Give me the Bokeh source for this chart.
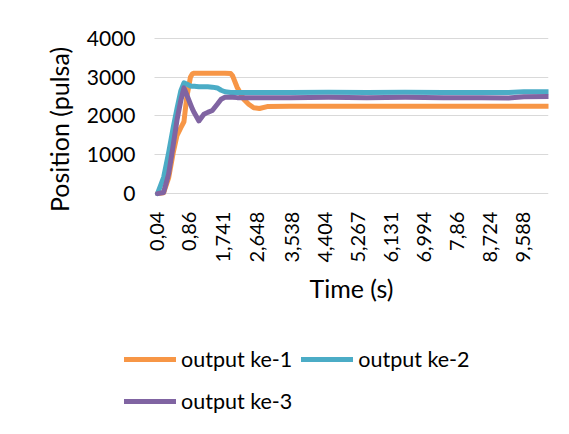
import math
from bokeh.plotting import figure
from bokeh.models import Range1d, FixedTicker, Legend, LegendItem
from bokeh.embed import file_html
from bokeh.resources import INLINE

# ---- data ----
time_s = [0.04, 0.2, 0.33, 0.45, 0.55, 0.65, 0.73, 0.8, 0.9, 0.95, 1.0, 1.12, 1.25, 1.35,
          1.47, 1.6, 1.7, 1.8, 1.95, 2.0, 2.12, 2.29, 2.42, 2.55, 2.7, 2.9, 3.5, 4.5, 5.5,
          6.5, 7.5, 8.5, 9.2, 9.6, 10.24]
output_ke1 = [0, 20, 400, 1050, 1500, 1700, 1850, 2450, 3000, 3080, 3100, 3100, 3100, 3100,
              3100, 3100, 3100, 3100, 3090, 3030, 2730, 2430, 2300, 2210, 2190, 2240, 2250, 2250, 2250,
              2250, 2250, 2250, 2250, 2250, 2250]
output_ke2 = [0, 420, 1050, 1700, 2200, 2650, 2850, 2820, 2770, 2760, 2760, 2750, 2750, 2750,
              2740, 2720, 2660, 2620, 2600, 2600, 2600, 2600, 2600, 2600, 2600, 2600, 2600, 2610, 2600,
              2610, 2600, 2600, 2600, 2620, 2620]
output_ke3 = [0, 30, 500, 1250, 1900, 2400, 2720, 2550, 2300, 2180, 2080, 1870, 2040, 2090,
              2140, 2300, 2430, 2480, 2480, 2480, 2470, 2470, 2470, 2470, 2470, 2470, 2470, 2480, 2470,
              2480, 2470, 2470, 2460, 2490, 2500]

tick_times = [0.04, 0.86, 1.741, 2.648, 3.538, 4.404, 5.267, 6.131, 6.994, 7.86, 8.724, 9.588]
tick_labels = ["0,04", "0,86", "1,741", "2,648", "3,538", "4,404", "5,267", "6,131",
               "6,994", "7,86", "8,724", "9,588"]
y_ticks = [0, 1000, 2000, 3000, 4000]

series_names = ["output ke-1", "output ke-2", "output ke-3"]
series_colors = ["#F79646", "#4BACC6", "#8064A2"]

FONT = "Lato"
X_START, X_END = -0.038, 10.241   # extent of the plotted time axis

p = figure(width=552, height=418, output_backend="svg", toolbar_location=None,
           x_range=Range1d(-4.056, X_END), y_range=Range1d(-5789, 4970),
           min_border_left=0, min_border_right=4, min_border_top=0,
           min_border_bottom=0)
p.outline_line_color = None
p.background_fill_color = "white"
p.border_fill_color = "white"

renderers = []
for ys, col in zip([output_ke1, output_ke2, output_ke3], series_colors):
    r = p.line(time_s, ys, line_color=col, line_width=5, line_cap="round", line_join="round")
    renderers.append(r)

# x axis (sits at y = 0)
xa = p.xaxis[0]
xa.fixed_location = 0
xa.bounds = (X_START, X_END)
xa.ticker = FixedTicker(ticks=tick_times)
xa.major_label_overrides = {t: l for t, l in zip(tick_times, tick_labels)}
xa.major_label_orientation = math.pi / 2
xa.axis_line_color = None
xa.major_tick_line_color = None
xa.minor_tick_line_color = None
xa.major_label_text_font = FONT
xa.major_label_text_font_size = "20px"
xa.major_label_text_color = "black"
xa.major_label_standoff = 12
xa.axis_label = "Time (s)"
xa.axis_label_text_font = FONT
xa.axis_label_text_font_size = "25px"
xa.axis_label_text_font_style = "normal"
xa.axis_label_text_color = "black"
xa.axis_label_standoff = 8

# y axis (sits at the start of the time axis)
ya = p.yaxis[0]
ya.fixed_location = X_START
ya.bounds = (-700, 4000)
ya.ticker = FixedTicker(ticks=y_ticks)
ya.axis_line_color = None
ya.major_tick_line_color = None
ya.minor_tick_line_color = None
ya.major_label_text_font = FONT
ya.major_label_text_font_size = "21px"
ya.major_label_text_color = "black"
ya.major_label_standoff = 13
ya.axis_label = "Position (pulsa)"
ya.axis_label_text_font = FONT
ya.axis_label_text_font_size = "25px"
ya.axis_label_text_font_style = "normal"
ya.axis_label_text_color = "black"
ya.axis_label_standoff = 10

p.xgrid.grid_line_color = None
p.ygrid.grid_line_color = "#d9d9d9"
p.ygrid.grid_line_width = 1
p.ygrid.ticker = FixedTicker(ticks=y_ticks)
p.ygrid.cross_bounds = (X_START, X_END)


def make_legend(items, loc):
    return Legend(items=items, location=loc, orientation="horizontal",
                  glyph_width=52, glyph_height=24, label_height=24, label_standoff=5,
                  spacing=9, padding=0, margin=0,
                  label_text_font=FONT, label_text_font_size="21.5px", label_text_color="black",
                  background_fill_alpha=0, border_line_alpha=0)


leg1 = make_legend([LegendItem(label=series_names[0], renderers=[renderers[0]]),
                    LegendItem(label=series_names[1], renderers=[renderers[1]])], (124, 46))
leg2 = make_legend([LegendItem(label=series_names[2], renderers=[renderers[2]])], (124, 4))
p.add_layout(leg1)
p.add_layout(leg2)

open("out.html", "w").write(file_html(p, INLINE))
